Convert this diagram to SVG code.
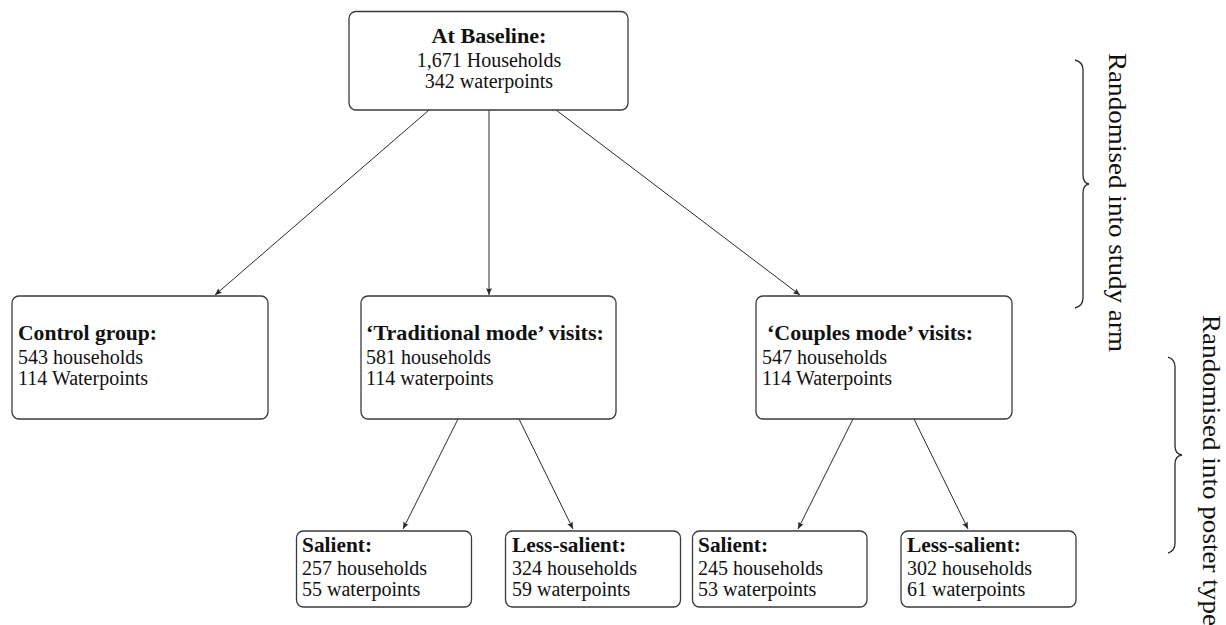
<svg xmlns="http://www.w3.org/2000/svg" width="1226" height="625" viewBox="0 0 1226 625">
<style>
.box{fill:#fff;stroke:#3a3a3a;stroke-width:1.3}
.t{font-family:"Liberation Serif","Times New Roman",serif;font-size:20px;fill:#111}
.b{font-weight:bold;font-size:21px}
.c{stroke:#2a2a2a;stroke-width:1;fill:none}
.br{stroke:#2a2a2a;stroke-width:1.3;fill:none}
.r{font-family:"Liberation Serif","Times New Roman",serif;font-size:25px;fill:#111}
</style>
<defs>
<marker id="ah" markerUnits="userSpaceOnUse" markerWidth="10" markerHeight="10" refX="7" refY="5" orient="auto">
<path d="M0,2 L7,5 L0,8 Q2,5 0,2 Z" fill="#2a2a2a"/>
</marker>
</defs>
<g id="connectors">
<line class="c" x1="429" y1="110" x2="215" y2="295" marker-end="url(#ah)"/>
<line class="c" x1="489" y1="110" x2="489" y2="295" marker-end="url(#ah)"/>
<line class="c" x1="556" y1="110" x2="800" y2="295" marker-end="url(#ah)"/>
<line class="c" x1="458" y1="419" x2="403" y2="529" marker-end="url(#ah)"/>
<line class="c" x1="519" y1="419" x2="573" y2="529" marker-end="url(#ah)"/>
<line class="c" x1="853" y1="419" x2="798" y2="529" marker-end="url(#ah)"/>
<line class="c" x1="914" y1="419" x2="968" y2="529" marker-end="url(#ah)"/>
</g>
<g id="baseline">
<rect class="box" x="349" y="11.5" width="279" height="98.5" rx="7"/>
<text class="t b" x="489" y="43" text-anchor="middle" textLength="115" lengthAdjust="spacingAndGlyphs">At Baseline:</text>
<text class="t" x="489" y="67" text-anchor="middle">1,671 Households</text>
<text class="t" x="489" y="88" text-anchor="middle">342 waterpoints</text>
</g>
<g id="control">
<rect class="box" x="12" y="296" width="256" height="123" rx="7"/>
<text class="t b" x="18" y="340" textLength="139" lengthAdjust="spacingAndGlyphs">Control group:</text>
<text class="t" x="18" y="364">543 households</text>
<text class="t" x="18" y="385">114 Waterpoints</text>
</g>
<g id="traditional">
<rect class="box" x="361" y="296" width="255" height="123" rx="7"/>
<text class="t b" x="366" y="340" textLength="238" lengthAdjust="spacingAndGlyphs">‘Traditional mode’ visits:</text>
<text class="t" x="366" y="364">581 households</text>
<text class="t" x="366" y="385">114 waterpoints</text>
</g>
<g id="couples">
<rect class="box" x="756" y="296" width="256" height="123" rx="7"/>
<text class="t b" x="767" y="340" textLength="206" lengthAdjust="spacingAndGlyphs">‘Couples mode’ visits:</text>
<text class="t" x="762" y="364">547 households</text>
<text class="t" x="762" y="385">114 Waterpoints</text>
</g>
<g id="salient1">
<rect class="box" x="296.5" y="531" width="175" height="76" rx="7"/>
<text class="t b" x="302" y="552" textLength="70" lengthAdjust="spacingAndGlyphs">Salient:</text>
<text class="t" x="302" y="575">257 households</text>
<text class="t" x="302" y="596">55 waterpoints</text>
</g>
<g id="lesssalient1">
<rect class="box" x="505.5" y="531" width="175" height="76" rx="7"/>
<text class="t b" x="512" y="552" textLength="114" lengthAdjust="spacingAndGlyphs">Less-salient:</text>
<text class="t" x="512" y="575">324 households</text>
<text class="t" x="512" y="596">59 waterpoints</text>
</g>
<g id="salient2">
<rect class="box" x="692.5" y="531" width="174.5" height="76" rx="7"/>
<text class="t b" x="698" y="552" textLength="70" lengthAdjust="spacingAndGlyphs">Salient:</text>
<text class="t" x="698" y="575">245 households</text>
<text class="t" x="698" y="596">53 waterpoints</text>
</g>
<g id="lesssalient2">
<rect class="box" x="901" y="531" width="175" height="76" rx="7"/>
<text class="t b" x="907" y="552" textLength="114" lengthAdjust="spacingAndGlyphs">Less-salient:</text>
<text class="t" x="907" y="575">302 households</text>
<text class="t" x="907" y="596">61 waterpoints</text>
</g>
<g id="brace-study-arm">
<path class="br" d="M1075,60 Q1083,62 1083,70 L1083,175 Q1083,183 1089,184 Q1083,185 1083,193 L1083,298 Q1083,306 1075,308"/>
<text class="r" transform="translate(1109,53) rotate(90)" textLength="299" lengthAdjust="spacingAndGlyphs">Randomised into study arm</text>
</g>
<g id="brace-poster-type">
<path class="br" d="M1168,357 Q1175,359 1175,367 L1175,446 Q1175,454 1182,455 Q1175,456 1175,464 L1175,543 Q1175,551 1168,553"/>
<text class="r" transform="translate(1203,315) rotate(90)" textLength="311" lengthAdjust="spacingAndGlyphs">Randomised into poster type</text>
</g>
</svg>
